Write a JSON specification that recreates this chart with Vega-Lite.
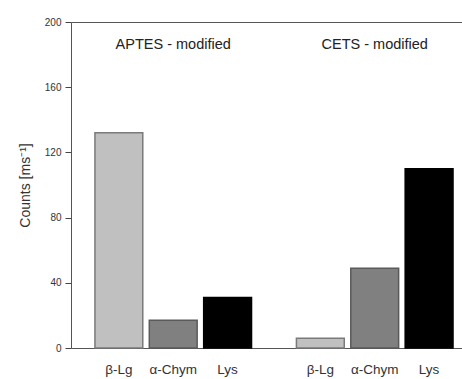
{
  "$schema": "https://vega.github.io/schema/vega-lite/v6.json",
  "width": 391,
  "height": 326,
  "autosize": {"type": "none"},
  "padding": {"left": 71, "top": 22, "right": 0, "bottom": 31},
  "config": {
    "font": "Liberation Sans",
    "view": {"stroke": null},
    "axis": {"labelOverlap": false}
  },
  "data": {"values": [
    {"group": "APTES", "protein": "β-Lg", "counts": 132, "label": "APTES - modified"},
    {"group": "APTES", "protein": "α-Chym", "counts": 17, "label": "APTES - modified"},
    {"group": "APTES", "protein": "Lys", "counts": 31, "label": "APTES - modified"},
    {"group": "CETS", "protein": "β-Lg", "counts": 6, "label": "CETS - modified"},
    {"group": "CETS", "protein": "α-Chym", "counts": 49, "label": "CETS - modified"},
    {"group": "CETS", "protein": "Lys", "counts": 110, "label": "CETS - modified"}
  ]},
  "encoding": {
    "x": {"field": "group", "type": "nominal",
      "scale": {"domain": ["APTES", "CETS"], "paddingInner": 0.2228, "paddingOuter": 0.0817, "align": 0.727},
      "axis": {"labels": false, "ticks": false, "title": null, "domainColor": "#555555", "grid": false}}
  },
  "layer": [
    {
      "mark": {"type": "bar", "strokeWidth": 1.5},
      "encoding": {
        "xOffset": {"field": "protein", "type": "nominal",
          "scale": {"domain": ["β-Lg", "α-Chym", "Lys"], "paddingInner": 0.12, "paddingOuter": 0}},
        "y": {"field": "counts", "type": "quantitative",
          "scale": {"domain": [0, 200], "nice": false},
          "axis": {
            "values": [0, 10, 20, 30, 40, 50, 60, 70, 80, 90, 100, 110, 120, 130, 140, 150, 160, 170, 180, 190, 200],
            "labelExpr": "datum.value % 20 === 0 ? datum.label : ''",
            "labelOverlap": false,
            "grid": true,
            "gridColor": "#555555",
            "gridWidth": 1.2,
            "gridOpacity": {"condition": {"test": "datum.value >= 200", "value": 1}, "value": 0},
            "tickSize": {"condition": {"test": "datum.value % 20 === 0", "value": 6}, "value": 3},
            "labelPadding": 4, "labelFontSize": 10, "labelColor": "#333333",
            "domainColor": "#555555", "tickColor": "#444444",
            "title": "Counts [ms⁻¹]", "titleFontSize": 14, "titleFontWeight": "normal", "titleColor": "#333333", "titlePadding": 12}},
        "fill": {"field": "protein", "type": "nominal",
          "scale": {"domain": ["β-Lg", "α-Chym", "Lys"], "range": ["#c0c0c0", "#808080", "#000000"]}, "legend": null},
        "stroke": {"field": "protein", "type": "nominal",
          "scale": {"domain": ["β-Lg", "α-Chym", "Lys"], "range": ["#7a7a7a", "#5a5a5a", "#000000"]}, "legend": null}
      }
    },
    {
      "mark": {"type": "text", "dy": 22, "fontSize": 13.5, "color": "#333333", "baseline": "middle"},
      "encoding": {
        "xOffset": {"field": "protein", "type": "nominal"},
        "y": {"datum": 0, "type": "quantitative"},
        "text": {"field": "protein"}
      }
    },
    {
      "transform": [{"filter": "datum.protein === 'α-Chym'"}],
      "mark": {"type": "text", "fontSize": 14.5, "color": "#222222", "baseline": "middle"},
      "encoding": {
        "y": {"datum": 186, "type": "quantitative"},
        "text": {"field": "label"}
      }
    }
  ]
}
